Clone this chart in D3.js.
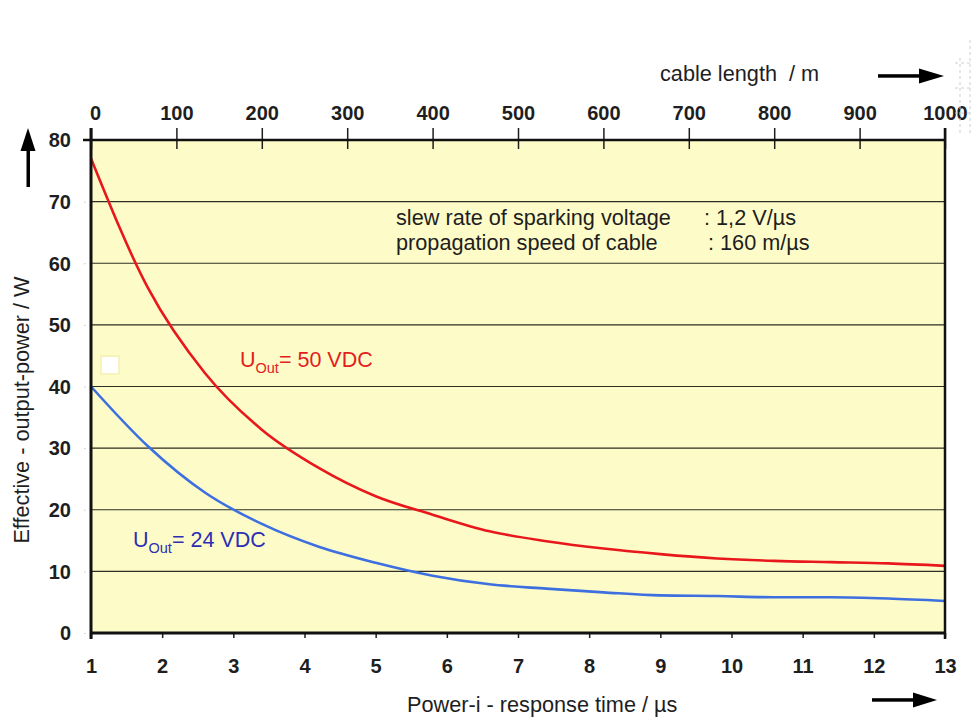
<!DOCTYPE html>
<html>
<head>
<meta charset="utf-8">
<script src="https://cdn.jsdelivr.net/npm/d3@7"></script>
<style>
  body { margin: 0; background: #fff; }
  svg { font-family: "Liberation Sans", Arial, sans-serif; }
  .tick text { font-weight: bold; font-size: 20px; fill: #1e1e1e; }
</style>
</head>
<body>
<svg id="chart" width="973" height="717"></svg>
<script>
/* ── Data ───────────────────────────────────────────────────────────────────── */
const timeTicks   = [1, 2, 3, 4, 5, 6, 7, 8, 9, 10, 11, 12, 13];          // µs
const lengthTicks = [0, 100, 200, 300, 400, 500, 600, 700, 800, 900, 1000]; // m
const powerTicks  = [0, 10, 20, 30, 40, 50, 60, 70, 80];                 // W

const timeSamples = [1, 1.8, 2.6, 3.4, 4.2, 5.0, 5.8, 6.6, 7.4, 8.2, 9.0, 9.8, 10.6, 11.4, 12.2, 13];
const power50 = [77, 56, 42.2, 33, 26.8, 22.2, 19.2, 16.5, 14.9, 13.7, 12.8, 12.1, 11.7, 11.5, 11.3, 10.9];
const power24 = [40, 30.3, 22.8, 17.7, 14.0, 11.4, 9.3, 7.9, 7.2, 6.6, 6.1, 6.0, 5.8, 5.8, 5.6, 5.2];

/* ── Layout ─────────────────────────────────────────────────────────────────── */
const L = 91, R = 945, T = 140, B = 633;
const FS = 21.7; // text size of titles and notes
const svg = d3.select("#chart");

const x    = d3.scaleLinear().domain([1, 13]).range([L, R]);
const xTop = d3.scaleLinear().domain([0, 1000]).range([L, R]);
const y    = d3.scaleLinear().domain([0, 80]).range([B, T]);

// plot background
svg.append("rect")
  .attr("x", L).attr("y", T).attr("width", R - L).attr("height", B - T)
  .attr("fill", "#fdfcc8");

// grid lines
svg.append("g").selectAll("line")
  .data(powerTicks.filter(v => v > 0 && v < 80))
  .join("line")
  .attr("x1", L).attr("x2", R)
  .attr("y1", d => y(d)).attr("y2", d => y(d))
  .attr("stroke", "#2e2e22").attr("stroke-width", 1.2);

// little white box
svg.append("rect")
  .attr("x", 101).attr("y", 356).attr("width", 18).attr("height", 18)
  .attr("fill", "#fff").attr("stroke", "#f4f0b0").attr("stroke-width", 1.5);

/* ── Curves ─────────────────────────────────────────────────────────────────── */
const line = d3.line().x(d => x(d[0])).y(d => y(d[1])).curve(d3.curveMonotoneX);

svg.append("path")
  .datum(timeSamples.map((t, i) => [t, power50[i]]))
  .attr("d", line).attr("fill", "none")
  .attr("stroke", "#e8171c").attr("stroke-width", 2.6);

svg.append("path")
  .datum(timeSamples.map((t, i) => [t, power24[i]]))
  .attr("d", line).attr("fill", "none")
  .attr("stroke", "#3d6fe0").attr("stroke-width", 2.6);

/* ── Axes ───────────────────────────────────────────────────────────────────── */
const gTop = svg.append("g").attr("transform", `translate(0,${T})`)
  .call(d3.axisTop(xTop).tickValues(lengthTicks).tickFormat(d3.format("d"))
    .tickSize(12).tickPadding(8));
gTop.select(".domain").remove();
gTop.selectAll(".tick line").attr("y1", 9).attr("stroke", "#1e1e1e").attr("stroke-width", 1.5);
gTop.selectAll(".tick text").attr("dx", d => d === 0 ? 4 : 0);

const gBot = svg.append("g").attr("transform", `translate(0,${B})`)
  .call(d3.axisBottom(x).tickValues(timeTicks).tickSize(5));
gBot.select(".domain").remove();
gBot.selectAll(".tick line").attr("stroke", "#1e1e1e").attr("stroke-width", 1.5);
gBot.selectAll(".tick text").attr("y", 40).attr("dy", null);

const gLeft = svg.append("g").attr("transform", `translate(${L},0)`)
  .call(d3.axisLeft(y).tickValues(powerTicks).tickSize(7).tickPadding(13));
gLeft.select(".domain").remove();
gLeft.selectAll(".tick line").attr("stroke", "#c8c8c8").attr("stroke-dasharray", "1.5,4");
gLeft.selectAll(".tick text").attr("dy", "0.34em");

// frame
const frame = svg.append("g").attr("stroke", "#111").attr("fill", "none");
frame.append("line").attr("x1", 83).attr("x2", R + 1).attr("y1", T).attr("y2", T).attr("stroke-width", 2.5);
frame.append("line").attr("x1", L).attr("x2", R + 1).attr("y1", B).attr("y2", B).attr("stroke-width", 3);
frame.append("line").attr("x1", L).attr("x2", L).attr("y1", 128).attr("y2", B + 6).attr("stroke-width", 3);
frame.append("line").attr("x1", R).attr("x2", R).attr("y1", 128).attr("y2", B + 6).attr("stroke-width", 2.5);

/* ── Texts ──────────────────────────────────────────────────────────────────── */
svg.append("text").attr("x", 660).attr("y", 81)
  .attr("font-size", FS).attr("fill", "#1e1e1e").text("cable length  / m")
  .style("white-space", "pre");

svg.append("text").attr("x", 407).attr("y", 712)
  .attr("font-size", FS).attr("fill", "#1e1e1e").text("Power-i - response time / µs");

svg.append("text")
  .attr("transform", "translate(29,410) rotate(-90)")
  .attr("text-anchor", "middle")
  .attr("font-size", FS).attr("fill", "#1e1e1e").text("Effective - output-power / W");

const note = svg.append("g").attr("font-size", FS).attr("fill", "#1e1e1e");
note.append("text").attr("x", 396).attr("y", 225).text("slew rate of sparking voltage");
note.append("text").attr("x", 704).attr("y", 225).text(": 1,2 V/µs");
note.append("text").attr("x", 396).attr("y", 250).text("propagation speed of cable");
note.append("text").attr("x", 708).attr("y", 250).text(": 160 m/µs");

function uLabel(px, py, value, color) {
  const t = svg.append("text").attr("x", px).attr("y", py)
    .attr("font-size", 21.5).attr("fill", color);
  t.append("tspan").text("U");
  t.append("tspan").attr("font-size", 14.5).attr("dy", 6).text("Out");
  t.append("tspan").attr("dy", -6).text(`= ${value} VDC`);
}
uLabel(240, 367, 50, "#e3201e");
uLabel(133, 547, 24, "#2c2fb6");

/* ── Arrows ─────────────────────────────────────────────────────────────────── */
const arrows = svg.append("g").attr("fill", "#000");
arrows.append("rect").attr("x", 26.5).attr("y", 148).attr("width", 3.5).attr("height", 39);
arrows.append("path").attr("d", "M28,128 L20.5,151 L35.5,151 Z");
arrows.append("rect").attr("x", 878).attr("y", 74.2).attr("width", 44).attr("height", 3.5);
arrows.append("path").attr("d", "M944,76 L919,68.5 L919,83.5 Z");
arrows.append("rect").attr("x", 872).attr("y", 698.2).attr("width", 44).attr("height", 3.5);
arrows.append("path").attr("d", "M937,700 L913,692.5 L913,707.5 Z");

/* ── Edge artefacts ─────────────────────────────────────────────────────────── */
const edge = svg.append("g").attr("stroke", "#cfcfcf").attr("stroke-width", 1)
  .attr("stroke-dasharray", "3,3");
edge.append("line").attr("x1", 960).attr("x2", 960).attr("y1", 58).attr("y2", 134);
edge.append("line").attr("x1", 970).attr("x2", 970).attr("y1", 40).attr("y2", 134);
[63, 88, 113].forEach(v =>
  edge.append("line").attr("x1", 955).attr("x2", 973).attr("y1", v).attr("y2", v));
</script>
</body>
</html>
